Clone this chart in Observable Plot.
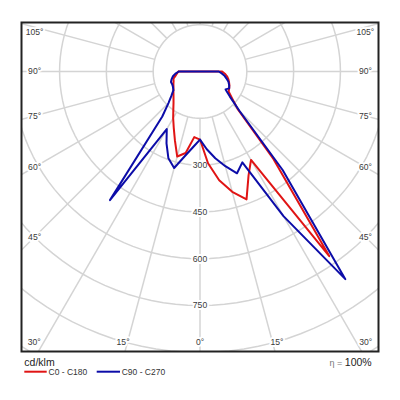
<!DOCTYPE html>
<html><head><meta charset="utf-8">
<script src="https://cdn.jsdelivr.net/npm/d3@7"></script>
<script src="https://cdn.jsdelivr.net/npm/@observablehq/plot@0.6"></script>
<style>
body{margin:0;background:#fff}
#wrap{position:relative;width:400px;height:400px;font-family:"Liberation Sans",Arial,sans-serif}
#legend{position:absolute;left:0;top:356px}
</style>
</head><body><div id="wrap"></div>
<script>
// gamma angles (degrees from nadir)
const gamma = [0,5,10,15,20,25,30,35,40,45,50,55,60,65,70,75,80,85,90];
// luminous intensity, cd/klm
const redC0    = [218,295,354,399,436,368,327,722,366,172,135,112,108,104,99,94,88,80,71];
const redC180  = [218,211,265,282,235,199,172,149,132,120,111,104,98,94,90,88,80,74,69];
const blueC90  = [218,250,282,314,347,321,535,812,412,180,125,100,108,103,97,88,80,70,60];
const blueC270 = [218,242,274,320,296,254,213,503,188,143,119,104,100,98,99,94,88,79,68];

const rings = [150,300,450,600,750,900,1050];
const ringLabels = [300,450,600,750];
const spokes = d3.range(0,360,15);
const sideTicks = [45,60,75,90,105];
const bottomTicks = [0,15,30];

const rad = d => d*Math.PI/180;
function curve(series, left, right){
  const pts = [];
  for (let i = gamma.length-1; i >= 0; i--) pts.push({series, g: -gamma[i], I: left[i]});
  for (let i = 1; i < gamma.length; i++) pts.push({series, g: gamma[i], I: right[i]});
  pts.push(pts[0]);
  return pts;
}
const curves = [
  ...curve("C0 - C180", redC180, redC0),
  ...curve("C90 - C270", blueC270, blueC90)
];
const ringPts = rings.flatMap(R => d3.range(0,361,3).map(a => ({R, a})));
const sideLab = sideTicks.flatMap(a => [{a, s:-1},{a, s:1}]);
const bottomLab = bottomTicks.flatMap(a => a === 0 ? [{a, s:1}] : [{a, s:-1},{a, s:1}]);

const grid = "#d4d4d4";
const lab = "#3a3a3a";
const chart = Plot.plot({
  width: 400, height: 356,
  marginLeft: 21, marginRight: 22, marginTop: 22, marginBottom: 5,
  x: {domain: [-572, 572], axis: null},
  y: {domain: [-897, 157], axis: null},
  style: {fontFamily: "'Liberation Sans', Arial, sans-serif", background: "#fff"},
  marks: [
    Plot.line(ringPts, {x: d => d.R*Math.sin(rad(d.a)), y: d => d.R*Math.cos(rad(d.a)), z: "R", stroke: grid, strokeWidth: 1.5, clip: true}),
    Plot.link(spokes, {x1: a => 150*Math.sin(rad(a)), y1: a => 150*Math.cos(rad(a)), x2: a => 1400*Math.sin(rad(a)), y2: a => 1400*Math.cos(rad(a)), stroke: grid, strokeWidth: 1.5, clip: true}),
    Plot.text(ringLabels, {x: d => 0, y: d => -d, text: d => String(d), fill: lab, stroke: "white", strokeWidth: 4, fontSize: 8.6}),
    Plot.text(sideLab, {x: d => d.s*530, y: d => Math.min(125, -530/Math.tan(rad(d.a))), text: d => d.a + "°", fill: lab, stroke: "white", strokeWidth: 4, fontSize: 8.6}),
    Plot.text(bottomLab, {x: d => d.s*920*Math.tan(rad(d.a)), y: d => -868.6, text: d => d.a + "°", fill: lab, stroke: "white", strokeWidth: 4, fontSize: 8.6}),
    Plot.line(curves, {x: d => d.I*Math.sin(rad(d.g)), y: d => -d.I*Math.cos(rad(d.g)), z: "series",
      stroke: "series", strokeWidth: 2, clip: true}),
    Plot.frame({stroke: "#222", strokeWidth: 2})
  ],
  color: {domain: ["C0 - C180", "C90 - C270"], range: ["#e01414", "#0c0ca8"]}
});
const wrap = document.getElementById("wrap");
wrap.appendChild(chart);

const legend = document.createElement("div");
legend.id = "legend";
legend.innerHTML = `<svg width="400" height="44" font-family="'Liberation Sans', Arial, sans-serif">
  <text x="24.3" y="9.7" font-size="10.5" fill="#222">cd/klm</text>
  <text x="371.7" y="9.7" text-anchor="end" font-size="10.5" fill="#222"><tspan fill="#777" font-size="9">η = </tspan>100%</text>
  <line x1="24.3" x2="46.7" y1="15.7" y2="15.7" stroke="#e01414" stroke-width="2"/>
  <text x="48.5" y="18.7" font-size="8.5" fill="#333">C0 - C180</text>
  <line x1="96.7" x2="120" y1="15.7" y2="15.7" stroke="#0c0ca8" stroke-width="2"/>
  <text x="121.7" y="18.7" font-size="8.5" fill="#333">C90 - C270</text>
</svg>`;
wrap.appendChild(legend);
</script>
</body></html>
